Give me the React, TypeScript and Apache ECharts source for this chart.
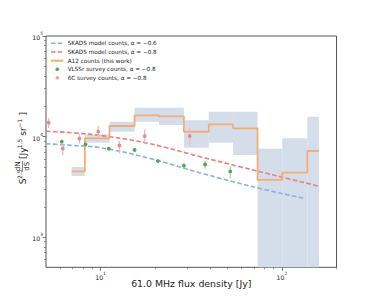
import React, { useEffect, useRef } from "react";
import * as echarts from "echarts";

// A12 step histogram (bin edges in Jy, counts, and band limits)
const binEdges = [6.92, 8.19, 11.2, 15.4, 21.0, 28.8, 39.5, 53.8, 73.4, 100.4, 138, 160];
const a12Counts = [4510, 9600, 12720, 16250, 15880, 11160, 13220, 12070, 3700, 4370, 7180];
const a12Upper = [4980, 10510, 14030, 19300, 19300, 14500, 17660, 17660, 7570, 9600, 15740];
const a12Lower = [4050, 8670, 11160, 14030, 13010, 7740, 8670, 6550, 100, 100, 100];

// SKADS model curves
const skads06X = [5, 7, 10, 18.6, 35.2, 66.5, 131];
const skads06Y = [8480, 8150, 7740, 6070, 4370, 3220, 2430];
const skads08X = [5, 7, 11.2, 18.6, 35.2, 58.6, 97.6, 158];
const skads08Y = [11270, 10900, 9960, 8490, 6320, 5010, 3990, 3220];

// VLSSr survey counts
const vlssrX = [6.11, 8.26, 11.1, 15.4, 20.7, 28.8, 37.7, 51.9];
const vlssrY = [8880, 8360, 7570, 7350, 5700, 5130, 5270, 4490];
const vlssrLo = [8500, 8000, 7250, 7050, 5450, 4890, 4720, 3840];
const vlssrHi = [9300, 8700, 7900, 7650, 5950, 5420, 5780, 5090];

// 6C survey counts
const sixcX = [5.17, 6.19, 7.65, 9.71, 12.7, 17.5, 31.0];
const sixcY = [13780, 7600, 9550, 11160, 8140, 10110, 10110];
const sixcLo = [12150, 6500, 8480, 9950, 6810, 8420, 8050];
const sixcHi = [15280, 8480, 10510, 12720, 9020, 11800, 12070];

// ticks
const xMajorTicks = [10, 100];
const xMinorTicks = [6, 7, 8, 9, 20, 30, 40, 50, 60, 70, 80, 90, 200];
const yMajorTicks = [1000, 10000, 100000];
const yMinorTicks = [600, 700, 800, 900, 2000, 3000, 4000, 5000, 6000, 7000, 8000, 9000,
  20000, 30000, 40000, 50000, 60000, 70000, 80000, 90000];

const legendLabels = [
  "SKADS model counts, α = −0.6",
  "SKADS model counts, α = −0.8",
  "A12 counts (this work)",
  "VLSSr survey counts, α = −0.8",
  "6C survey counts, α = −0.8",
];

const FONT = "DejaVu Sans";
const C_BLUE = "#86b4d8";
const C_RED = "#f27b7b";
const C_ORANGE = "#f3ad74";
const C_BAND = "#d4deea";
const C_GREEN = "#4caa4c";
const C_GREEN_BAR = "#a9d8a9";
const C_PINK = "#e08a8f";
const C_PINK_BAR = "#f3b9bc";
const AXIS = "#555";

const powLabel = (v: number) => {
  const e = Math.round(Math.log10(v));
  return `{b|10}{s|${e}}`;
};
const labelRich = {
  b: { fontSize: 6.2, fontFamily: FONT, color: "#222", lineHeight: 9, verticalAlign: "bottom" },
  s: { fontSize: 4.4, fontFamily: FONT, color: "#222", lineHeight: 5, verticalAlign: "top" },
};

const errRender = (color: string, barColor: string) => (params: any, api: any) => {
  const x = api.value(0), y = api.value(1), lo = api.value(2), hi = api.value(3);
  const p = api.coord([x, y]);
  const pl = api.coord([x, lo]);
  const ph = api.coord([x, hi]);
  return {
    type: "group",
    children: [
      { type: "line", shape: { x1: pl[0], y1: pl[1], x2: ph[0], y2: ph[1] }, style: { stroke: barColor, lineWidth: 1.3 } },
      { type: "circle", shape: { cx: p[0], cy: p[1], r: 1.9 }, style: { fill: color } },
    ],
  };
};

export default function App() {
  const ref = useRef<HTMLDivElement>(null);
  useEffect(() => {
    document.body.style.margin = "0";
    if (!ref.current) return;
    const chart = echarts.init(ref.current, null, { renderer: "svg" });

    const bandData = a12Counts.map((_, i) => [binEdges[i], binEdges[i + 1], a12Lower[i], a12Upper[i]]);
    const stepData = binEdges.map((e, i) => [e, a12Counts[Math.min(i, a12Counts.length - 1)]]);

    const legendRowsY = [43.3, 52, 60.7, 69.3, 77.8];
    const legendGraphics: any[] = [];
    const hx1 = 51, hx2 = 63.3, tx = 67.7;
    legendLabels.forEach((t, i) => {
      const y = legendRowsY[i];
      if (i === 0 || i === 1) {
        legendGraphics.push({ type: "line", shape: { x1: hx1, y1: y, x2: hx2, y2: y }, style: { stroke: i === 0 ? C_BLUE : C_RED, lineWidth: 1.6, lineDash: [4.6, 2] } });
      } else if (i === 2) {
        legendGraphics.push({ type: "line", shape: { x1: hx1, y1: y, x2: hx2, y2: y }, style: { stroke: C_ORANGE, lineWidth: 2 } });
      } else {
        legendGraphics.push({ type: "circle", shape: { cx: 57.3, cy: y, r: 1.8 }, style: { fill: i === 3 ? C_GREEN : "#eaa4a6" } });
      }
      legendGraphics.push({ type: "text", x: tx, y, style: { text: t, fontSize: 5.7, fontFamily: FONT, fill: "#222", verticalAlign: "middle", align: "left" } });
    });

    const ylab = {
      type: "group",
      x: 23,
      y: 147.3,
      rotation: Math.PI / 2,
      children: [
        { type: "text", x: -37, y: 0, style: { text: "S", fontSize: 9, fontFamily: FONT, fill: "#222", verticalAlign: "middle", align: "left" } },
        { type: "text", x: -31.6, y: -3.6, style: { text: "2.5", fontSize: 6, fontFamily: FONT, fill: "#222", verticalAlign: "middle", align: "left" } },
        { type: "text", x: -18.9, y: -4.6, style: { text: "dN", fontSize: 7, fontFamily: FONT, fill: "#222", verticalAlign: "middle", align: "center" } },
        { type: "line", shape: { x1: -24.2, y1: -0.6, x2: -13.6, y2: -0.6 }, style: { stroke: "#222", lineWidth: 0.6 } },
        { type: "text", x: -18.9, y: 3.6, style: { text: "dS", fontSize: 7, fontFamily: FONT, fill: "#222", verticalAlign: "middle", align: "center" } },
        { type: "text", x: -11.6, y: 0, style: { text: "[Jy", fontSize: 9, fontFamily: FONT, fill: "#222", verticalAlign: "middle", align: "left" } },
        { type: "text", x: -1, y: -3.6, style: { text: "1.5", fontSize: 6, fontFamily: FONT, fill: "#222", verticalAlign: "middle", align: "left" } },
        { type: "text", x: 11.6, y: 0, style: { text: "sr", fontSize: 9, fontFamily: FONT, fill: "#222", verticalAlign: "middle", align: "left" } },
        { type: "text", x: 19.6, y: -3.6, style: { text: "−1", fontSize: 6, fontFamily: FONT, fill: "#222", verticalAlign: "middle", align: "left" } },
        { type: "text", x: 31.8, y: 0, style: { text: "]", fontSize: 9, fontFamily: FONT, fill: "#222", verticalAlign: "middle", align: "left" } },
      ],
    };

    const logAxisBase = (min: number, max: number) => ({
      type: "log",
      logBase: 10,
      min,
      max,
      splitLine: { show: false },
      axisLine: { show: false },
    });

    chart.setOption({
      animation: false,
      backgroundColor: "#fff",
      grid: { left: 46, top: 36, width: 290.5, height: 231.3, show: true, borderColor: AXIS, borderWidth: 1, backgroundColor: "transparent", outerBoundsMode: "none" },
      xAxis: [
        {
          ...logAxisBase(5, 200),
          position: "bottom",
          axisTick: { show: true, length: 3.5, customValues: xMajorTicks, lineStyle: { color: AXIS, width: 0.8 } },
          axisLabel: { show: true, customValues: xMajorTicks, margin: 4.5, formatter: powLabel, rich: labelRich },
          name: "61.0 MHz flux density [Jy]",
          nameLocation: "middle",
          nameGap: 11.5,
          nameMoveOverlap: false,
          nameTextStyle: { fontSize: 9.4, fontFamily: FONT, color: "#222", verticalAlign: "top" },
        },
        {
          ...logAxisBase(5, 200),
          position: "bottom",
          axisTick: { show: true, length: 2, customValues: xMinorTicks, lineStyle: { color: AXIS, width: 0.6 } },
          axisLabel: { show: false },
        },
      ],
      yAxis: [
        {
          ...logAxisBase(500, 100000),
          position: "left",
          axisTick: { show: true, length: 3.5, customValues: yMajorTicks, lineStyle: { color: AXIS, width: 0.8 } },
          axisLabel: { show: true, customValues: yMajorTicks, margin: 3, formatter: powLabel, rich: labelRich },
        },
        {
          ...logAxisBase(500, 100000),
          position: "left",
          axisTick: { show: true, length: 2, customValues: yMinorTicks, lineStyle: { color: AXIS, width: 0.6 } },
          axisLabel: { show: false },
        },
      ],
      series: [
        {
          type: "custom",
          name: "A12 band",
          xAxisIndex: 0,
          yAxisIndex: 0,
          clip: true,
          z: 1,
          encode: { x: [0, 1], y: [2, 3] },
          data: bandData,
          renderItem: (params: any, api: any) => {
            const p0 = api.coord([api.value(0), api.value(3)]);
            const p1 = api.coord([api.value(1), api.value(2)]);
            return {
              type: "rect",
              shape: { x: p0[0], y: p0[1], width: p1[0] - p0[0], height: p1[1] - p0[1] },
              style: { fill: C_BAND },
            };
          },
        },
        {
          type: "line",
          name: "SKADS model counts, α = −0.6",
          data: skads06X.map((x, i) => [x, skads06Y[i]]),
          smooth: 0.4,
          showSymbol: false,
          z: 3,
          lineStyle: { color: C_BLUE, width: 1.6, type: [4.6, 2.4] },
        },
        {
          type: "line",
          name: "SKADS model counts, α = −0.8",
          data: skads08X.map((x, i) => [x, skads08Y[i]]),
          smooth: 0.4,
          showSymbol: false,
          z: 3,
          lineStyle: { color: C_RED, width: 1.6, type: [4.6, 2.4] },
        },
        {
          type: "line",
          name: "A12 counts (this work)",
          data: stepData,
          step: "end",
          showSymbol: false,
          z: 4,
          lineStyle: { color: C_ORANGE, width: 1.8 },
        },
        {
          type: "custom",
          name: "VLSSr survey counts, α = −0.8",
          z: 5,
          encode: { x: 0, y: [1, 2, 3] },
          data: vlssrX.map((x, i) => [x, vlssrY[i], vlssrLo[i], vlssrHi[i]]),
          renderItem: errRender(C_GREEN, C_GREEN_BAR),
        },
        {
          type: "custom",
          name: "6C survey counts, α = −0.8",
          z: 5,
          encode: { x: 0, y: [1, 2, 3] },
          data: sixcX.map((x, i) => [x, sixcY[i], sixcLo[i], sixcHi[i]]),
          renderItem: errRender(C_PINK, C_PINK_BAR),
        },
      ],
      graphic: [...legendGraphics, ylab],
    });

    return () => chart.dispose();
  }, []);
  return <div ref={ref} style={{ width: 374, height: 306 }} />;
}
